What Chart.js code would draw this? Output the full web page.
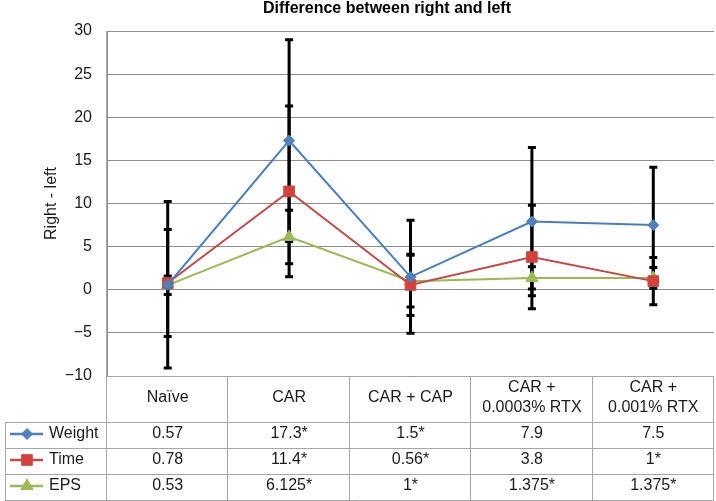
<!DOCTYPE html>
<html>
<head>
<meta charset="utf-8">
<script src="https://cdn.jsdelivr.net/npm/chart.js"></script>
<style>
  html, body { margin: 0; padding: 0; background: #fff; }
  #wrap { width: 716px; height: 501px; }
</style>
</head>
<body>
<div id="wrap"><canvas id="myChart" width="716" height="501"></canvas></div>
<script>
// categories and header text of the table
const groups = ['Naïve', 'CAR', 'CAR + CAP', 'CAR + 0.0003% RTX', 'CAR + 0.001% RTX'];
const headerLines = [['Naïve'], ['CAR'], ['CAR + CAP'], ['CAR +', '0.0003% RTX'], ['CAR +', '0.001% RTX']];

// mean values (right - left)
const weight = [0.57, 17.3, 1.5, 7.9, 7.5];
const time = [0.78, 11.4, 0.56, 3.8, 1];
const eps = [0.53, 6.125, 1, 1.375, 1.375];

// error bar half lengths
const weightErr = [9.65, 11.7, 6.55, 8.6, 6.7];
const timeErr = [6.2, 9.9, 3.55, 6.0, 2.75];
const epsErr = [1.07, 3.1, 3.0, 1.3, 1.2];

// which values carry an asterisk in the table
const weightStar = [false, true, true, false, false];
const timeStar = [false, true, true, false, true];
const epsStar = [false, true, true, true, true];

const yTicks = [-10, -5, 0, 5, 10, 15, 20, 25, 30];

const FONT = '"Liberation Sans", Arial, sans-serif';
const gridColor = '#8e8e8e';
const tableLine = '#a6a6a6';

const series = [
  { label: 'Weight', data: weight, err: weightErr, star: weightStar, color: '#4A7EBB', fill: '#4F81BD', style: 'rectRot', radius: 5.5 },
  { label: 'Time', data: time, err: timeErr, star: timeStar, color: '#BE4B48', fill: '#D8403C', style: 'rect', radius: 7.5 },
  { label: 'EPS', data: eps, err: epsErr, star: epsStar, color: '#98B954', fill: '#9BBB59', style: 'triangle', radius: 7 }
];

const errorBars = {
  id: 'errorBars',
  beforeDatasetsDraw(chart) {
    const ctx = chart.ctx;
    const xs = chart.scales.x, ys = chart.scales.y;
    ctx.save();
    ctx.strokeStyle = '#000';
    ctx.lineWidth = 3;
    series.forEach(s => {
      s.data.forEach((v, i) => {
        const x = xs.getPixelForValue(i);
        const top = ys.getPixelForValue(v + s.err[i]);
        const bot = ys.getPixelForValue(v - s.err[i]);
        ctx.beginPath();
        ctx.moveTo(x, top); ctx.lineTo(x, bot);
        ctx.moveTo(x - 4, top); ctx.lineTo(x + 4, top);
        ctx.moveTo(x - 4, bot); ctx.lineTo(x + 4, bot);
        ctx.stroke();
      });
    });
    ctx.restore();
  }
};

const dataTable = {
  id: 'dataTable',
  afterDraw(chart) {
    const ctx = chart.ctx;
    const area = chart.chartArea;
    const xs = chart.scales.x;
    const colW = area.width / groups.length;
    const headTop = area.bottom, headBot = area.bottom + 46;
    const rowH = (chart.height - 1 - headBot) / series.length;
    const labelLeft = 5;

    ctx.save();
    // title
    ctx.fillStyle = '#000';
    ctx.font = 'bold 16px ' + FONT;
    ctx.textAlign = 'center';
    ctx.textBaseline = 'alphabetic';
    ctx.fillText('Difference between right and left', 387, 13);

    // grid of the table
    ctx.strokeStyle = tableLine;
    ctx.lineWidth = 1;
    ctx.beginPath();
    ctx.moveTo(area.left, headTop + 0.5); ctx.lineTo(area.right, headTop + 0.5);
    for (let r = 0; r <= series.length; r++) {
      const y = Math.round(headBot + r * rowH) + 0.5;
      ctx.moveTo(labelLeft, y); ctx.lineTo(area.right, y);
    }
    for (let c = 0; c <= groups.length; c++) {
      const x = Math.round(area.left + c * colW) - 0.5;
      ctx.moveTo(x, c === 0 ? area.top : headTop); ctx.lineTo(x, chart.height - 0.5);
    }
    ctx.moveTo(labelLeft + 0.5, headBot); ctx.lineTo(labelLeft + 0.5, chart.height - 0.5);
    ctx.stroke();

    // header
    ctx.fillStyle = '#1a1a1a';
    ctx.font = '16px ' + FONT;
    ctx.textBaseline = 'middle';
    ctx.textAlign = 'center';
    headerLines.forEach((lines, i) => {
      const x = xs.getPixelForValue(i);
      const mid = (headTop + headBot) / 2 - 1;
      if (lines.length === 1) {
        ctx.fillText(lines[0], x, mid);
      } else {
        ctx.fillText(lines[0], x, mid - 10);
        ctx.fillText(lines[1], x, mid + 10);
      }
    });

    // rows
    series.forEach((s, r) => {
      const yc = headBot + (r + 0.5) * rowH - 1;
      // legend key
      ctx.strokeStyle = s.color;
      ctx.lineWidth = 2.5;
      ctx.beginPath();
      ctx.moveTo(10, yc); ctx.lineTo(43, yc);
      ctx.stroke();
      ctx.fillStyle = s.fill;
      ctx.strokeStyle = s.color;
      ctx.lineWidth = 1;
      Chart.helpers.drawPoint(ctx, { pointStyle: s.style, radius: s.radius, rotation: 0, borderWidth: 1 }, 27, yc);
      ctx.fillStyle = '#1a1a1a';
      ctx.textAlign = 'left';
      ctx.fillText(s.label, 49, yc);
      ctx.textAlign = 'center';
      s.data.forEach((v, i) => {
        ctx.fillText(String(v) + (s.star[i] ? '*' : ''), xs.getPixelForValue(i), yc);
      });
    });
    ctx.restore();
  }
};

new Chart(document.getElementById('myChart'), {
  type: 'line',
  data: {
    labels: groups,
    datasets: series.map(s => ({
      label: s.label,
      data: s.data,
      borderColor: s.color,
      borderWidth: 2,
      backgroundColor: s.fill,
      pointBackgroundColor: s.fill,
      pointBorderColor: s.color,
      pointBorderWidth: 1,
      pointStyle: s.style,
      pointRadius: s.radius,
      tension: 0
    }))
  },
  options: {
    responsive: false,
    animation: false,
    events: [],
    layout: { autoPadding: false, padding: { top: 31, right: 2, bottom: 125, left: 0 } },
    plugins: { legend: { display: false }, title: { display: false }, tooltip: { enabled: false } },
    scales: {
      x: { type: 'category', offset: true, display: false },
      y: {
        min: -10, max: 30,
        afterFit(scale) { scale.width = 107; },
        afterBuildTicks(scale) { scale.ticks = yTicks.map(v => ({ value: v })); },
        border: { display: true, color: gridColor, width: 1 },
        grid: { color: gridColor, lineWidth: 1, drawTicks: false },
        ticks: {
          padding: 15,
          color: '#1a1a1a',
          font: { family: FONT, size: 16 },
          callback: v => String(v).replace('-', '\u2212')
        },
        title: {
          display: true,
          text: 'Right - left',
          color: '#1a1a1a',
          font: { family: FONT, size: 16 },
          padding: { top: 42, bottom: 0 }
        }
      }
    }
  },
  plugins: [errorBars, dataTable]
});
</script>
</body>
</html>
